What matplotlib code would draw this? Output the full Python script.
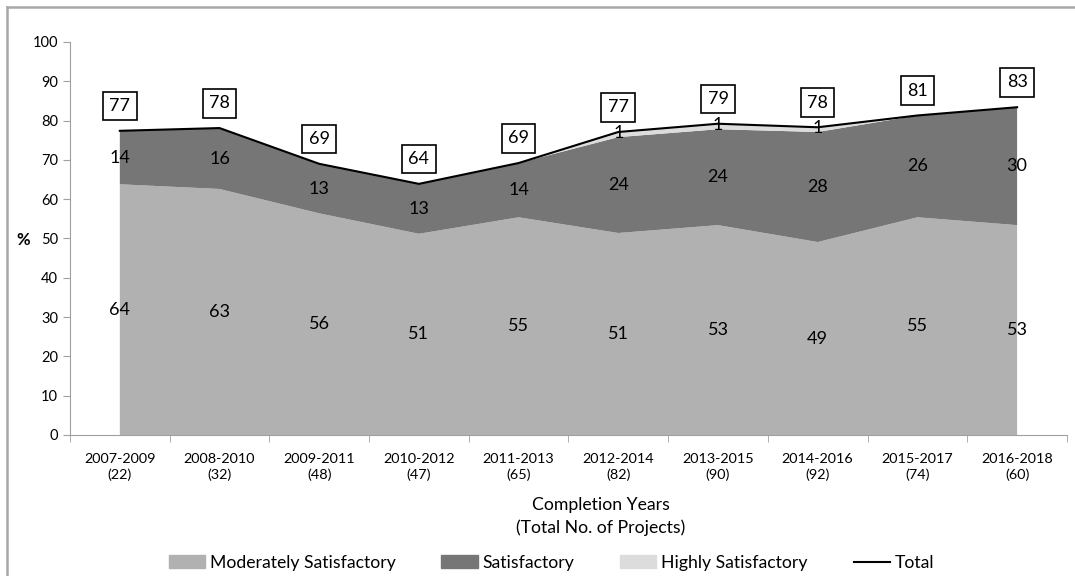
import matplotlib.pyplot as plt
import matplotlib.patches as mpatches
from matplotlib.lines import Line2D
import numpy as np

plt.rcParams['font.family'] = ['Lato', 'DejaVu Sans']

# values (percent of projects)
periods = ['2007-2009', '2008-2010', '2009-2011', '2010-2012', '2011-2013',
           '2012-2014', '2013-2015', '2014-2016', '2015-2017', '2016-2018']
n_projects = [22, 32, 48, 47, 65, 82, 90, 92, 74, 60]
moderately = [63.8, 62.6, 56.4, 51.2, 55.4, 51.4, 53.4, 49.1, 55.4, 53.4]
satisfactory = [13.6, 15.5, 12.6, 12.7, 13.8, 24.4, 24.4, 28.0, 25.9, 30.0]
highly = [0, 0, 0, 0, 0, 1.3, 1.4, 1.2, 0, 0]
total = [77, 78, 69, 64, 69, 77, 79, 78, 81, 83]

c_mod, c_sat, c_high = '#b1b1b1', '#767676', '#dcdcdc'

fig = plt.figure(figsize=(10.75, 5.76), dpi=100)
ax = fig.add_axes([0.0651, 0.2448, 0.9274, 0.6823])

x = np.arange(len(periods))
mod = np.array(moderately)
sat = np.array(satisfactory)
high = np.array(highly)
top = mod + sat + high

ax.stackplot(x, mod, sat, high, colors=[c_mod, c_sat, c_high], linewidth=0)
ax.plot(x, top, color='black', lw=1.5)

# data labels
fs = 13
for i in x:
    ax.text(i, mod[i] / 2, f'{mod[i]:.0f}', ha='center', va='center', fontsize=fs)
    ax.text(i, mod[i] + sat[i] / 2, f'{sat[i]:.0f}', ha='center', va='center', fontsize=fs)
    if high[i] > 0:
        ax.text(i, mod[i] + sat[i] + high[i] / 2 + 0.3, f'{high[i]:.0f}',
                ha='center', va='center', fontsize=fs)
    ax.text(i, top[i] + 6.3, str(total[i]), ha='center', va='center', fontsize=fs,
            bbox=dict(boxstyle='square,pad=0.35', fc='white', ec='black', lw=1.2))

ax.set_xlim(-0.5, len(periods) - 0.5)
ax.set_ylim(0, 100)
ax.set_yticks(range(0, 101, 10))
ax.set_xticks(x)
ax.set_xticklabels([f'{p}\n({n})' for p, n in zip(periods, n_projects)],
                   fontsize=10.4, linespacing=1.3)
ax.set_xticks(np.arange(-0.5, len(periods), 1), minor=True)
ax.tick_params(axis='x', which='major', length=0, pad=13)
ax.tick_params(axis='x', which='minor', length=5, color='#a0a0a0')
ax.tick_params(axis='y', length=5, color='#a0a0a0', labelsize=10.5)

for s in ['top', 'right']:
    ax.spines[s].set_visible(False)
for s in ['left', 'bottom']:
    ax.spines[s].set_color('#a0a0a0')

fig.text(23 / 1075, 1 - 240 / 576, '%', ha='center', va='center',
         fontsize=12, fontweight='bold')
fig.text(0.559, 0.103, 'Completion Years\n(Total No. of Projects)', ha='center',
         va='center', fontsize=12.7, linespacing=1.45)

handles = [mpatches.Patch(color=c_mod, label='Moderately Satisfactory'),
           mpatches.Patch(color=c_sat, label='Satisfactory'),
           mpatches.Patch(color=c_high, label='Highly Satisfactory'),
           Line2D([], [], color='black', lw=1.5, label='Total')]
fig.legend(handles=handles, loc='center', bbox_to_anchor=(0.513, 0.0226), ncol=4,
           frameon=False, fontsize=12.7, handlelength=2.05, handleheight=0.75,
           columnspacing=2.6, handletextpad=0.28, borderpad=0)

# outer frame (only top and left edges are visible in the original)
fig.lines.append(Line2D([7 / 1075, 1], [1 - 7 / 576] * 2, color='#a8a8a8', lw=1.8,
                        transform=fig.transFigure))
fig.lines.append(Line2D([7 / 1075] * 2, [0, 1 - 7 / 576], color='#a8a8a8', lw=1.8,
                        transform=fig.transFigure))

fig.savefig('out.png', dpi=100)
